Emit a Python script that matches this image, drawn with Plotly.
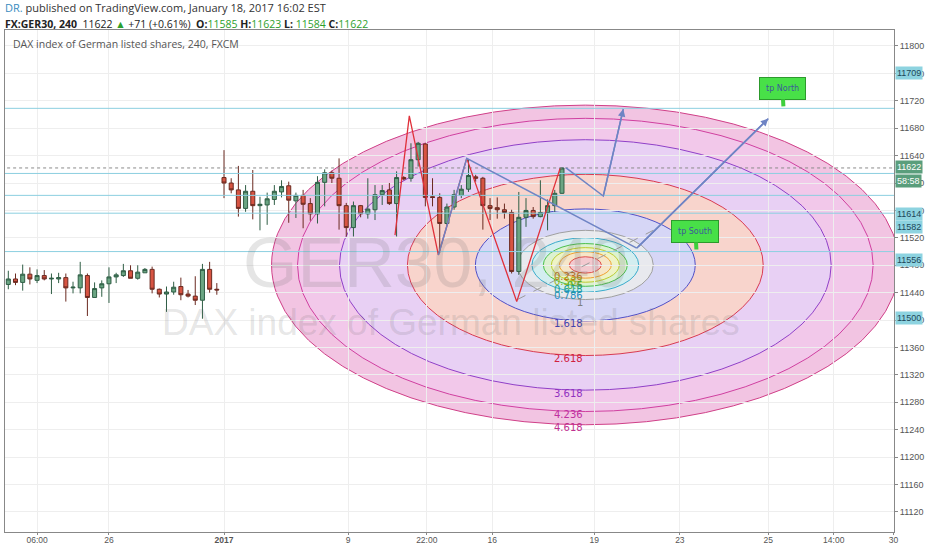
import plotly.graph_objects as go

# ---- data (bar index on x, price on y) ----
opens = [11452, 11460, 11455, 11467, 11458, 11465, 11460, 11460, 11462, 11447,
         11447, 11465, 11433, 11447, 11453, 11463, 11465, 11472, 11461, 11469,
         11474, 11445, 11438, 11441, 11449, 11438, 11435, 11429, 11474, 11445,
         11608, 11600, 11590, 11563, 11588, 11567, 11568, 11576, 11587, 11596,
         11574, 11582, 11570, 11555, 11601, 11615, 11607, 11567, 11535, 11567,
         11555, 11561, 11583, 11590, 11570, 11608, 11607, 11634, 11657, 11580,
         11579, 11541, 11565, 11582, 11591, 11609, 11607, 11567, 11564, 11561,
         11557, 11471, 11550, 11560, 11551, 11557, 11567, 11585]
highs = [11472, 11468, 11481, 11477, 11474, 11473, 11468, 11469, 11468, 11456,
         11485, 11468, 11455, 11458, 11477, 11469, 11482, 11480, 11480, 11476,
         11478, 11446, 11449, 11456, 11462, 11444, 11464, 11482, 11485, 11454,
         11648, 11607, 11625, 11597, 11619, 11580, 11586, 11597, 11604, 11602,
         11586, 11590, 11578, 11610, 11620, 11618, 11636, 11571, 11573, 11568,
         11607, 11597, 11597, 11600, 11617, 11610, 11658, 11660, 11658, 11607,
         11585, 11570, 11590, 11597, 11634, 11612, 11609, 11578, 11579, 11570,
         11561, 11587, 11578, 11565, 11604, 11576, 11590, 11623]
lows = [11445, 11451, 11443, 11452, 11454, 11458, 11438, 11454, 11427, 11439,
        11439, 11406, 11433, 11434, 11425, 11454, 11463, 11461, 11459, 11469,
        11439, 11433, 11412, 11437, 11429, 11433, 11422, 11402, 11440, 11437,
        11578, 11585, 11551, 11558, 11547, 11531, 11539, 11568, 11579, 11542,
        11549, 11534, 11545, 11541, 11566, 11600, 11532, 11522, 11522, 11550,
        11548, 11546, 11568, 11568, 11522, 11604, 11602, 11624, 11566, 11566,
        11498, 11539, 11561, 11578, 11587, 11602, 11532, 11546, 11548, 11548,
        11468, 11466, 11536, 11548, 11550, 11531, 11558, 11584]
closes = [11460, 11455, 11467, 11460, 11465, 11460, 11461, 11462, 11447, 11448,
          11466, 11433, 11446, 11453, 11463, 11466, 11472, 11461, 11470, 11474,
          11445, 11438, 11441, 11448, 11437, 11435, 11429, 11474, 11445, 11444,
          11600, 11590, 11563, 11588, 11567, 11569, 11577, 11588, 11595, 11575,
          11582, 11569, 11555, 11601, 11615, 11607, 11567, 11535, 11567, 11555,
          11562, 11583, 11589, 11570, 11608, 11606, 11634, 11658, 11579, 11579,
          11541, 11565, 11583, 11591, 11611, 11607, 11567, 11563, 11561, 11557,
          11471, 11550, 11560, 11551, 11557, 11567, 11585, 11622]
bars = list(range(len(opens)))

x_tick_pos = [4, 14, 30, 47.25, 58.2, 67.3, 81.5, 93.4, 105.7, 114.8, 123.1]
x_tick_text = ["06:00", "26", "<b>2017</b>", "9", "22:00", "16", "19", "23", "25", "14:00", "30"]
y_ticks = list(range(11120, 11801, 40))

# horizontal levels and current price
h_levels = [11709, 11614, 11582, 11556, 11500]
last_price = 11622

# price scale badges: (text, price position)
badges = [("11709", 11760), ("11622", 11623), ("58:58", 11603), ("11614", 11555),
          ("11582", 11536), ("11556", 11487), ("11500", 11403)]

# drawings
zigzag_x = [53.78, 55.77, 59.81, 63.76, 70.71, 76.73]
zigzag_y = [11524, 11698, 11495, 11636, 11427, 11621]
trend1_x = [59.81, 63.76, 87.40]
trend1_y = [11495, 11636, 11505]
path_north_x = [87.40, 105.7]
path_north_y = [11505, 11694]
path_south_x = [77.57, 82.75, 85.53]
path_south_y = [11622, 11581, 11708]

fib_p1 = (70.8, 11430)
fib_p2 = (89.7, 11531)
fib_levels = [0.236, 0.382, 0.5, 0.618, 0.786, 1, 1.618, 2.618, 3.618, 4.236, 4.618]

# ---- styles ----
fib_line = {0.236: "#e0504a", 0.382: "#f0a030", 0.5: "#bccc30", 0.618: "#4cbf4c",
            0.786: "#3aaccc", 1: "#a0a0a0", 1.618: "#5050c8", 2.618: "#d83a52",
            3.618: "#9040c8", 4.236: "#d040a0", 4.618: "#d04088"}
fib_fill = {0.236: "#f3c9cf", 0.382: "#f6e6c8", 0.5: "#eef3c6", 0.618: "#dcf2d0",
            0.786: "#d3eef0", 1: "#e8e9ee", 1.618: "#d6d6f6", 2.618: "#f8d4cc",
            3.618: "#e8d0f4", 4.236: "#f2c8ea", 4.618: "#f2c4e2"}
fib_text = {0.236: "#c07020", 0.382: "#a0b020", 0.5: "#50b030", 0.618: "#20a090",
            0.786: "#2090c0", 1: "#808080", 1.618: "#4040b0", 2.618: "#d02040",
            3.618: "#9030c0", 4.236: "#c030a0", 4.618: "#c03090"}
drawing_blue = "#6f84c4"
level_cyan = "#8ccfe0"

fig = go.Figure()

cx = (fib_p1[0] + fib_p2[0]) / 2
cy = (fib_p1[1] + fib_p2[1]) / 2
ax1 = abs(fib_p2[0] - fib_p1[0]) / 2
by1 = abs(fib_p2[1] - fib_p1[1]) / 2

shapes = []
for lv in sorted(fib_levels, reverse=True):
    shapes.append(dict(type="circle", xref="x", yref="y", layer="below",
                       x0=cx - lv * ax1, x1=cx + lv * ax1,
                       y0=cy - lv * by1, y1=cy + lv * by1,
                       fillcolor=fib_fill[lv], line=dict(color=fib_line[lv], width=1)))

# horizontal levels
for lv in h_levels:
    fig.add_trace(go.Scatter(x=[-1, 130], y=[lv, lv], mode="lines",
                             line=dict(color=level_cyan, width=1), hoverinfo="skip"))
fig.add_trace(go.Scatter(x=[-1, 130], y=[last_price, last_price], mode="lines",
                         line=dict(color="#8a8a8a", width=1, dash="dot"), hoverinfo="skip"))

# fib trend line
fig.add_trace(go.Scatter(x=[fib_p1[0], fib_p2[0]], y=[fib_p1[1], fib_p2[1]], mode="lines",
                         line=dict(color="#9a9a9a", width=1, dash="dash"), hoverinfo="skip"))

fig.add_trace(go.Candlestick(
    x=bars, open=opens, high=highs, low=lows, close=closes,
    increasing=dict(line=dict(color="#2f5e45", width=1), fillcolor="#6ba583"),
    decreasing=dict(line=dict(color="#6b2a20", width=1), fillcolor="#d75442"),
    whiskerwidth=0, hoverinfo="skip"))

# drawings
fig.add_trace(go.Scatter(x=zigzag_x, y=zigzag_y, mode="lines",
                         line=dict(color="#e0303a", width=1.3), hoverinfo="skip"))
fig.add_trace(go.Scatter(x=trend1_x, y=trend1_y, mode="lines",
                         line=dict(color=drawing_blue, width=1.5), hoverinfo="skip"))
fig.add_trace(go.Scatter(x=path_south_x, y=path_south_y, mode="lines",
                         line=dict(color=drawing_blue, width=1.5), hoverinfo="skip"))
fig.add_trace(go.Scatter(x=path_north_x, y=path_north_y, mode="lines",
                         line=dict(color=drawing_blue, width=1.5), hoverinfo="skip"))

annotations = []
# arrowheads
for xs, ys in [(path_north_x, path_north_y), (path_south_x, path_south_y)]:
    annotations.append(dict(x=xs[-1], y=ys[-1], ax=xs[-2], ay=ys[-2], xref="x", yref="y",
                            axref="x", ayref="y", text="", showarrow=True, arrowhead=2,
                            arrowsize=1, arrowwidth=1.5, arrowcolor=drawing_blue))

# fib level labels
for lv in fib_levels:
    annotations.append(dict(x=cx, y=cy - lv * by1, xref="x", yref="y", text=str(lv),
                            showarrow=False, xanchor="right", yanchor="middle", yshift=-3,
                            font=dict(size=10, color=fib_text[lv], family="DejaVu Sans")))

# callouts
for txt, tx, ty in [("tp North", 107.8, 11712), ("tp South", 95.7, 11503)]:
    annotations.append(dict(x=tx, y=ty, xref="x", yref="y", text=txt, showarrow=True,
                            arrowhead=0, arrowwidth=4, arrowcolor="#3ccf3c", ax=-1, ay=-18,
                            bgcolor="#48e048", bordercolor="#2c9a2c", borderwidth=1, borderpad=6,
                            font=dict(size=8, color="#3d5a99", family="DejaVu Sans")))

# watermark
annotations.append(dict(x=59.4, y=11483, xref="x", yref="y", text="GER30, 240", showarrow=False,
                        font=dict(size=70, color="rgba(110,110,110,0.18)", family="Liberation Sans")))
annotations.append(dict(x=61.5, y=11397, xref="x", yref="y", text="DAX index of German listed shares",
                        showarrow=False,
                        font=dict(size=37, color="rgba(110,110,110,0.18)", family="Liberation Sans")))

# price badges
for txt, py in badges:
    green = txt in ("11622", "58:58")
    annotations.append(dict(x=1, y=py, xref="paper", yref="y", text=txt, showarrow=False,
                            xanchor="left", xshift=1, bgcolor="#5a9e7c" if green else "#8dd3e0",
                            borderpad=1, font=dict(size=9, color="white" if green else "#1d4658",
                                                   family="Liberation Sans")))

# header and legend text
annotations.append(dict(x=0, y=1.044, xref="paper", yref="paper", xanchor="left", yanchor="middle",
                        xshift=-2, showarrow=False,
                        text="<span style='color:#3a8cc0'>DR.</span> published on TradingView.com, January 18, 2017 16:02 EST",
                        font=dict(size=11, color="#333", family="Open Sans")))
annotations.append(dict(x=0, y=1.012, xref="paper", yref="paper", xanchor="left", yanchor="middle",
                        xshift=-2, showarrow=False,
                        text="<b>FX:GER30, 240</b>  11622 <span style='color:#2ca02c'>▲</span> +71 (+0.61%)  "
                             "<b>O:</b><span style='color:#2ca02c'>11585</span> <b>H:</b><span style='color:#2ca02c'>11623</span> "
                             "<b>L:</b> <span style='color:#2ca02c'>11584</span> <b>C:</b><span style='color:#2ca02c'>11622</span>",
                        font=dict(size=10.5, color="#222", family="Open Sans")))
annotations.append(dict(x=0, y=0.972, xref="paper", yref="paper", xanchor="left", yanchor="middle",
                        xshift=6, showarrow=False, text="DAX index of German listed shares, 240, FXCM",
                        font=dict(size=10.5, color="#555", family="Open Sans")))

fig.update_layout(
    width=932, height=550,
    margin=dict(l=5, r=38, t=30, b=18),
    paper_bgcolor="white", plot_bgcolor="white",
    showlegend=False,
    boxgap=0.2,
    shapes=shapes,
    annotations=annotations,
    xaxis=dict(range=[-0.46, 123.18], tickvals=x_tick_pos, ticktext=x_tick_text,
               showgrid=True, gridcolor="#eeeeee", zeroline=False, rangeslider=dict(visible=False),
               showline=True, linecolor="#888", mirror=True, ticks="outside", ticklen=2,
               tickcolor="#888", ticklabelstandoff=-2,
               tickfont=dict(size=8.5, color="#555", family="Liberation Sans")),
    yaxis=dict(range=[11090.8, 11823.3], side="right", tickvals=y_ticks,
               ticktext=[str(v) for v in y_ticks],
               showgrid=True, gridcolor="#eeeeee", zeroline=False,
               showline=True, linecolor="#888", mirror=True, ticks="outside", ticklen=3,
               tickcolor="#888", tickfont=dict(size=9, color="#555", family="Liberation Sans")),
)

fig.write_html("out.html", config={"displayModeBar": False},
               post_script="document.body.style.margin='0';")
